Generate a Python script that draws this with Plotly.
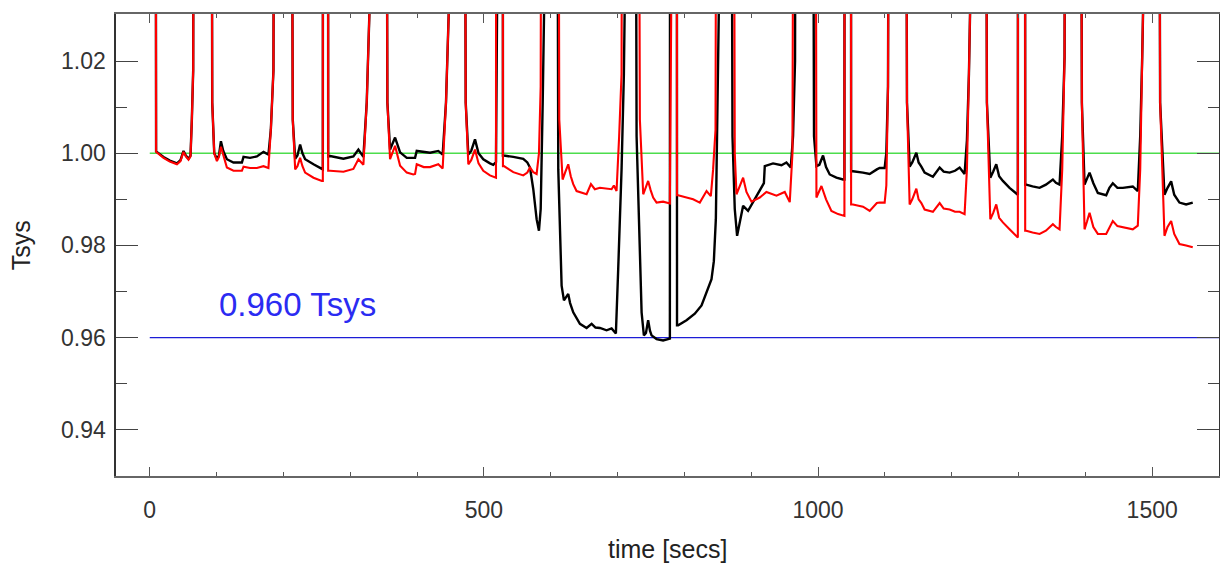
import plotly.graph_objects as go

# ---------------- data ----------------
TOP = 1.2  # value used where the trace is off the top of the plot

t_black = [8.0, 9.5, 20.6, 30, 40.7, 46, 50.5, 54, 58, 61, 63, 65, 67,
           91, 93.5, 96.5, 100.5, 103.5, 106.5, 110, 115.4, 125.3, 137.9, 140.3, 150, 160.3, 170.2, 177.6, 181.2, 185.1, 188,
           210, 214, 217.6, 221, 225, 228.5, 232.5, 245, 257.5, 259, 259.5, 266.5, 267, 269.9, 289.8, 304.7, 312.2, 319.7, 324.7, 328.6, 331,
           352, 355.6, 359.6, 367.1, 374.6, 384.6, 394.4, 397, 399.5, 410, 419.4, 431.8, 438.3, 443.3, 447.3, 450,
           469.2, 472.8, 476.7, 481, 486.7, 492, 499.1, 509.1, 514, 518.1, 518.6, 528, 528.5, 530, 544, 558.9, 565, 569, 573.9, 578.9, 582.4, 585, 588, 591,
           607.8, 611.3, 613.8, 616.3, 619.8, 622.5, 626.2, 629, 633.7, 643.7, 653.7, 661.2, 667, 673.6, 683.6, 691.1, 697.5, 701, 706, 709.5, 712.5,
           725, 728.5, 732.4, 736, 739.4, 742.5, 745.8, 748.5, 750.9, 758.4, 768.2, 778.3, 778.8, 788.5, 789, 790.7, 803.2, 815.6, 825.7, 833.2, 840.6, 844.1, 847.1, 849.6, 852,
           868, 872, 875.4, 878.9, 882.9, 887.9, 895.3, 907.9, 917.8, 919, 920.3, 932.7, 945.3, 952.7, 959.2, 962.6, 965.6, 968,
           990.1, 994, 997.6, 1002, 1007.5, 1012, 1017.5, 1027.5, 1037.4, 1039.5, 1040, 1049, 1049.5, 1052.3, 1067.3, 1077.3, 1088, 1092.2, 1099.7, 1102.2, 1104.7, 1108.2,
           1129.6, 1133.1, 1137.1, 1141, 1147.1, 1150.5, 1154.6, 1159.5, 1171.9, 1177, 1182, 1188, 1196.9, 1205, 1211.9, 1219.3, 1222.8, 1225.8, 1229.4,
           1249.2, 1252.7, 1257.8, 1262, 1266.7, 1271, 1276.6, 1286.6, 1299, 1299.5, 1309.5, 1310, 1311.6, 1321, 1331.5, 1341, 1351.4, 1356, 1361.4, 1365.4, 1368.9, 1371.4,
           1391.3, 1394.8, 1398.8, 1402.5, 1406.3, 1412, 1418.7, 1431.2, 1436, 1441.1, 1448, 1456.1, 1471, 1478.5, 1482.1, 1485.1, 1488.5,
           1508.4, 1511.9, 1518.4, 1523, 1528.4, 1533, 1540.8, 1550.8, 1560.7]

tsys_black = [TOP, 1.0004, 0.9992, 0.9984, 0.9978, 0.9985, 1.0005, 0.9995, 0.9988, 0.9995, 1.0073, 1.018, TOP,
              TOP, 1.011, 1.0, 0.9988, 0.9995, 1.0026, 1.0005, 0.9987, 0.998, 0.998, 0.9992, 0.999, 0.9993, 1.0003, 0.9997, 1.0051, 1.018, TOP,
              TOP, 1.0073, 0.9988, 0.9995, 1.0019, 1.0, 0.9987, 0.9976, 0.9965, 0.9965, TOP, TOP, 0.9993, 0.9994, 0.9988, 0.9993, 1.0008, 0.9992, 1.011, 1.03, TOP,
              TOP, 1.011, 1.0008, 1.0034, 1.0002, 0.999, 0.999, 0.999, 1.0005, 1.0003, 1.0001, 1.0005, 0.9997, 1.011, 1.03, TOP,
              TOP, 1.011, 0.9997, 1.0005, 1.003, 1.0, 0.9987, 0.9978, 0.9975, 0.9981, TOP, TOP, 0.9995, 0.9995, 0.9992, 0.9988, 0.998, 0.9969, 0.9922, 0.9857, 0.9832, 0.9879, 1.011, TOP,
              TOP, 0.9965, 0.9821, 0.9713, 0.9681, 0.9688, 0.9695, 0.9675, 0.9655, 0.963, 0.9621, 0.963, 0.9622, 0.9621, 0.9616, 0.962, 0.9609, 0.9749, 0.9965, 1.0172, TOP,
              TOP, 1.0037, 0.9821, 0.9655, 0.9605, 0.961, 0.9638, 0.9615, 0.9605, 0.9597, 0.9594, 0.9598, TOP, TOP, 0.9627, 0.9627, 0.9638, 0.9652, 0.967, 0.9699, 0.9727, 0.9766, 0.9857, 1.011, TOP,
              TOP, 1.0037, 0.9879, 0.9821, 0.985, 0.9886, 0.9875, 0.9907, 0.9933, 0.9935, 0.9972, 0.9978, 0.9974, 0.998, 0.9969, 1.0037, 1.02, TOP,
              TOP, 1.0037, 0.9972, 0.9975, 0.9995, 0.997, 0.9954, 0.9947, 0.9943, 0.9943, TOP, TOP, 0.9961, 0.9961, 0.9958, 0.9955, 0.9965, 0.9968, 0.9968, 1.0001, 1.0145, TOP,
              TOP, 1.011, 0.9971, 0.998, 1.0001, 0.998, 0.9971, 0.9958, 0.9949, 0.9958, 0.9969, 0.996, 0.9958, 0.9962, 0.9969, 0.9955, 1.0028, 1.0172, TOP,
              TOP, 1.011, 0.9947, 0.996, 0.9976, 0.995, 0.994, 0.9925, 0.991, TOP, TOP, 0.9932, 0.9932, 0.9928, 0.9925, 0.9932, 0.9943, 0.9936, 0.9932, 1.0037, 1.0209, TOP,
              TOP, 1.011, 0.9932, 0.9945, 0.9958, 0.9935, 0.9914, 0.9909, 0.9925, 0.9935, 0.9925, 0.9925, 0.9928, 0.9918, 1.0037, 1.0209, TOP,
              TOP, 1.011, 0.991, 0.9925, 0.9939, 0.991, 0.9893, 0.9889, 0.9893]

t_red = [8.0, 9.5, 20.6, 30, 40.7, 46, 50.5, 54, 58, 61, 63, 65, 67,
         91, 93.5, 96.5, 100.5, 103.5, 106.5, 110, 115.4, 125.3, 137.9, 140.3, 150, 160.3, 170.2, 177.6, 181.2, 185.1, 188,
         210, 214, 217.6, 221, 225, 228.5, 232.5, 245, 257.5, 259, 259.5, 266.5, 267, 269.9, 289.8, 304.7, 312.2, 319.7, 324.7, 328.6, 331,
         352, 355.6, 359.6, 367.1, 374.6, 384.6, 394.4, 397, 399.5, 410, 419.4, 431.8, 438.3, 443.3, 447.3, 450,
         469.2, 472.8, 476.7, 481, 486.7, 492, 499.1, 509.1, 514, 518.1, 518.6, 528, 528.5, 530, 544, 558.9, 565, 569, 573.9, 578.9, 582.4, 585, 587.5,
         609.8, 612.8, 617.8, 622, 626.2, 630, 633.7, 638.7, 653.7, 660.2, 666, 673.6, 691.1, 694.5, 698.5, 702.4, 706, 708.4,
         729.4, 733.4, 738.4, 742, 745.8, 749.5, 753.3, 758.4, 768.2, 778.3, 778.8, 788.5, 789, 790.7, 803.2, 813.1, 823.1, 828, 833.2, 839.6, 843, 846.6, 849.6,
         872, 875.4, 878, 883, 887.9, 892.9, 900.4, 912.8, 922.8, 937.8, 945, 950.2, 957.7, 961.7, 965.6,
         995, 997.6, 1001, 1005.1, 1012, 1020, 1030, 1037.4, 1039.5, 1040, 1049, 1049.5, 1052.3, 1067.3, 1077.3, 1088, 1092.2, 1099.7, 1102.2, 1104.7, 1108.2,
         1129.6, 1133.1, 1137.1, 1141, 1147.1, 1150.5, 1154.6, 1159.5, 1171.9, 1177, 1182, 1188, 1196.9, 1205, 1211.9, 1219.3, 1222.8, 1225.8, 1229.4,
         1249.2, 1252.7, 1257.8, 1262, 1266.7, 1271, 1276.6, 1286.6, 1299, 1299.5, 1309.5, 1310, 1311.6, 1321, 1331.5, 1341, 1351.4, 1356, 1361.4, 1365.4, 1368.9, 1371.4,
         1391.3, 1394.8, 1398.8, 1402.5, 1406.3, 1412, 1418.7, 1431.2, 1436, 1441.1, 1448, 1456.1, 1471, 1478.5, 1482.1, 1485.1, 1488.5,
         1508.4, 1511.9, 1518.4, 1523, 1528.4, 1533, 1540.8, 1550.8, 1560.7]

tsys_red = [TOP, 1.0003, 0.999, 0.9982, 0.9976, 0.9983, 1.0003, 0.9993, 0.9986, 0.9993, 1.0073, 1.018, TOP,
            TOP, 1.011, 1.0, 0.9983, 0.9992, 1.0014, 0.9995, 0.9969, 0.9962, 0.9962, 0.9971, 0.9968, 0.9968, 0.9972, 0.9968, 1.0051, 1.018, TOP,
            TOP, 1.0073, 0.9965, 0.9972, 0.999, 0.9972, 0.9958, 0.9947, 0.994, 0.994, TOP, TOP, 0.9962, 0.9962, 0.996, 0.9966, 0.9987, 0.9975, 1.011, 1.03, TOP,
            TOP, 1.011, 0.9987, 1.0016, 0.9973, 0.9958, 0.9954, 0.9955, 0.9976, 0.997, 0.997, 0.9976, 0.9967, 1.011, 1.03, TOP,
            TOP, 1.011, 0.9976, 0.9985, 1.0008, 0.9978, 0.9962, 0.9952, 0.995, 0.9947, TOP, TOP, 0.9972, 0.9972, 0.9959, 0.9952, 0.9958, 0.9969, 0.9959, 0.9955, 1.0, 1.0145, TOP,
            TOP, 1.0073, 0.9943, 0.996, 0.9976, 0.995, 0.9933, 0.9918, 0.9911, 0.9933, 0.9922, 0.9925, 0.9922, 0.993, 0.9918, 1.0037, 1.0172, TOP,
            TOP, 1.0073, 0.9911, 0.9925, 0.994, 0.992, 0.9904, 0.9893, 0.9895, 0.9891, TOP, TOP, 0.9909, 0.9909, 0.9904, 0.99, 0.9893, 0.9905, 0.9918, 0.9907, 0.9965, 1.0051, TOP,
            TOP, 1.0, 0.9911, 0.9928, 0.9947, 0.9916, 0.9895, 0.9904, 0.9916, 0.9908, 0.9913, 0.9916, 0.9894, 1.0, TOP,
            TOP, 0.9904, 0.9915, 0.9929, 0.99, 0.9875, 0.9868, 0.9864, 0.9864, TOP, TOP, 0.9889, 0.9889, 0.9884, 0.9875, 0.9892, 0.9893, 0.9893, 0.993, 1.0145, TOP,
            TOP, 1.011, 0.9889, 0.99, 0.9923, 0.99, 0.9892, 0.9878, 0.9873, 0.9882, 0.9892, 0.988, 0.9878, 0.9873, 0.9873, 0.9868, 0.9965, 1.0172, TOP,
            TOP, 1.011, 0.9857, 0.987, 0.9889, 0.986, 0.985, 0.9835, 0.9817, TOP, TOP, 0.9832, 0.9832, 0.9828, 0.9825, 0.9832, 0.9846, 0.984, 0.9835, 0.9965, 1.0209, TOP,
            TOP, 1.011, 0.9835, 0.9852, 0.9871, 0.984, 0.9825, 0.9825, 0.984, 0.9853, 0.9842, 0.9839, 0.9835, 0.9843, 0.9965, 1.0209, TOP,
            TOP, 1.011, 0.9821, 0.984, 0.9853, 0.9825, 0.9803, 0.98, 0.9796]

assert len(t_black) == len(tsys_black), (len(t_black), len(tsys_black))
assert len(t_red) == len(tsys_red), (len(t_red), len(tsys_red))

ref_unity = 1.0          # green reference level
ref_threshold = 0.96     # blue reference level
ref_t = [0, 1600]        # time span of the reference levels
label_text = "0.960 Tsys"
label_t, label_y = 101, 0.9673

x_tickvals = [0, 500, 1000, 1500]
x_ticktext = ["0", "500", "1000", "1500"]
y_tickvals = [0.94, 0.96, 0.98, 1.00, 1.02]
y_ticktext = ["0.94", "0.96", "0.98", "1.00", "1.02"]

# ---------------- figure ----------------
FONT = "Liberation Sans, Arial, Helvetica, sans-serif"
fig = go.Figure()

fig.add_trace(go.Scatter(x=ref_t, y=[ref_unity] * len(ref_t), mode="lines",
                         line=dict(color="#4ddd4d", width=1.6), hoverinfo="skip"))
fig.add_trace(go.Scatter(x=ref_t, y=[ref_threshold] * len(ref_t), mode="lines",
                         line=dict(color="#1c1cd6", width=1.2), hoverinfo="skip"))
fig.add_trace(go.Scatter(x=t_black, y=tsys_black, mode="lines",
                         line=dict(color="black", width=2.4)))
fig.add_trace(go.Scatter(x=t_red, y=tsys_red, mode="lines",
                         line=dict(color="#ff0000", width=2.1)))

fig.add_annotation(x=label_t, y=label_y, xref="x", yref="y", text=label_text,
                   showarrow=False, xanchor="left", yanchor="middle",
                   font=dict(family=FONT, size=33, color="#2b2bf2"))

# y tick labels placed just left of the axis (the reference leaves a ~9 px gap)
for val, txt in zip(y_tickvals, y_ticktext):
    fig.add_annotation(x=0, y=val, xref="paper", yref="y", text=txt,
                       showarrow=False, xanchor="right", yanchor="middle",
                       xshift=-8, font=dict(family=FONT, size=23, color="#333"))

fig.add_annotation(x=-0.086, y=0.5, xref="paper", yref="paper", text="Tsys",
                   textangle=-90, showarrow=False, xanchor="center", yanchor="middle",
                   font=dict(family=FONT, size=25, color="#222"))
fig.add_annotation(x=0.5, y=-0.157, xref="paper", yref="paper", text="time [secs]",
                   showarrow=False, xanchor="center", yanchor="middle",
                   font=dict(family=FONT, size=25, color="#222"))

# the page body adds an 8 px offset, so the figure is 8 px smaller on each axis
fig.update_layout(
    width=1220, height=559,
    margin=dict(l=108, r=9, t=4, b=91),
    paper_bgcolor="white", plot_bgcolor="white",
    showlegend=False,
    font=dict(family=FONT, color="#333"),
)
fig.update_xaxes(range=[-50.5, 1600], tickvals=x_tickvals, ticktext=x_ticktext,
                 ticks="inside", ticklen=9, tickwidth=1.3, tickcolor="#555",
                 minor=dict(dtick=100, tick0=0, ticks="inside", ticklen=4, tickwidth=1.2, tickcolor="#555"),
                 showline=True, linecolor="#666", linewidth=1.5, mirror="ticks",
                 showgrid=False, zeroline=False, ticklabelstandoff=13,
                 tickfont=dict(family=FONT, size=23, color="#333"))
fig.update_yaxes(range=[0.93, 1.0302], tickvals=y_tickvals, showticklabels=False,
                 ticks="inside", ticklen=22, tickwidth=1.3, tickcolor="#444",
                 minor=dict(dtick=0.01, tick0=0.93, ticks="inside", ticklen=11, tickwidth=1.2, tickcolor="#444"),
                 showline=True, linecolor="#333", linewidth=1.5, mirror="ticks",
                 showgrid=False, zeroline=False)

fig.write_html("out.html")
